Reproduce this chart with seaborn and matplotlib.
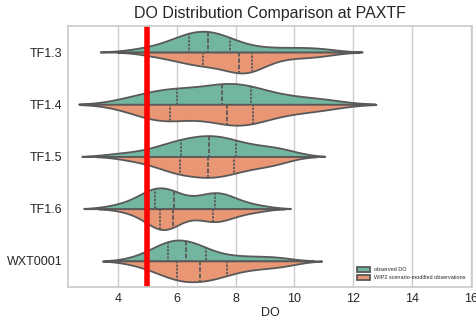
import matplotlib
matplotlib.use("Agg")
import matplotlib.pyplot as plt
import seaborn as sns
import pandas as pd

# hand-read sample values for each station (25 values each)
stations = ["TF1.3", "TF1.4", "TF1.5", "TF1.6", "WXT0001"]
sources = ["observed DO", "WIP2 scenario-modified observations"]

obs_tf13 = [4.7, 5.3, 5.7, 5.95, 6.15, 6.3, 6.4, 6.5, 6.6, 6.75, 6.85, 6.95, 7.07,
            7.2, 7.3, 7.45, 7.55, 7.7, 7.8, 8.2, 8.7, 9.3, 9.9, 10.5, 11.0]
mod_tf13 = [5.2, 5.7, 6.1, 6.4, 6.6, 6.8, 6.9, 7.1, 7.4, 7.6, 7.8, 7.95, 8.1,
            8.2, 8.3, 8.4, 8.45, 8.5, 8.57, 8.8, 9.1, 9.5, 10.0, 10.5, 11.0]
obs_tf14 = [4.2, 4.7, 5.1, 5.4, 5.65, 5.85, 6.0, 6.3, 6.6, 6.9, 7.15, 7.35, 7.55,
            7.7, 7.85, 8.0, 8.2, 8.35, 8.53, 8.8, 9.1, 9.5, 10.0, 10.6, 11.2]
mod_tf14 = [4.3, 4.8, 5.1, 5.35, 5.55, 5.68, 5.77, 6.1, 6.5, 6.9, 7.2, 7.45, 7.7,
            7.85, 8.0, 8.15, 8.3, 8.45, 8.6, 8.9, 9.2, 9.6, 10.1, 10.6, 11.2]
obs_tf15 = [4.0, 4.8, 5.3, 5.6, 5.85, 6.0, 6.15, 6.35, 6.55, 6.7, 6.85, 7.0, 7.1,
            7.25, 7.4, 7.55, 7.7, 7.85, 8.0, 8.3, 8.6, 8.9, 9.2, 9.5, 9.8]
mod_tf15 = [4.4, 5.0, 5.4, 5.65, 5.85, 6.0, 6.1, 6.3, 6.5, 6.65, 6.8, 6.95, 7.07,
            7.2, 7.35, 7.5, 7.65, 7.8, 7.95, 8.2, 8.45, 8.7, 9.0, 9.3, 9.6]
obs_tf16 = [3.9, 4.5, 4.8, 5.0, 5.1, 5.2, 5.26, 5.4, 5.5, 5.6, 5.7, 5.8, 5.9,
            6.1, 6.5, 6.9, 7.05, 7.2, 7.3, 7.4, 7.5, 7.65, 7.8, 8.2, 8.8]
mod_tf16 = [4.3, 4.8, 5.05, 5.2, 5.3, 5.38, 5.43, 5.5, 5.58, 5.65, 5.72, 5.8, 5.87,
            6.0, 6.3, 6.7, 6.95, 7.1, 7.24, 7.35, 7.45, 7.6, 7.8, 8.2, 8.7]
obs_wxt = [4.6, 5.0, 5.25, 5.4, 5.55, 5.63, 5.7, 5.8, 5.9, 6.0, 6.1, 6.2, 6.3,
           6.4, 6.5, 6.6, 6.75, 6.9, 7.0, 7.3, 7.7, 8.1, 8.6, 9.1, 9.6]
mod_wxt = [4.6, 5.1, 5.4, 5.6, 5.8, 5.9, 6.0, 6.15, 6.3, 6.45, 6.55, 6.7, 6.8,
           6.95, 7.1, 7.25, 7.4, 7.55, 7.7, 8.0, 8.3, 8.6, 9.0, 9.4, 9.8]

do_standard = 5

observed = [obs_tf13, obs_tf14, obs_tf15, obs_tf16, obs_wxt]
modified = [mod_tf13, mod_tf14, mod_tf15, mod_tf16, mod_wxt]

rows = []
for st, o, m in zip(stations, observed, modified):
    rows += [(st, v, sources[0]) for v in o]
    rows += [(st, v, sources[1]) for v in m]
df = pd.DataFrame(rows, columns=["Station", "DO", "source"])

sns.set_theme(style="whitegrid")
plt.rcParams["font.family"] = ["Liberation Sans", "DejaVu Sans"]

fig = plt.figure(figsize=(4.76, 3.21), dpi=100)
ax = fig.add_axes([0.143, 0.106, 0.849, 0.813])

sns.violinplot(data=df, x="DO", y="Station", hue="source", split=True,
               inner="quart", palette="Set2", order=stations, hue_order=sources,
               density_norm="width", linewidth=1.3, bw_adjust=0.8, ax=ax)
ax.axvline(do_standard, color="red", lw=4)

ax.set_xlim(2.3, 16.05)
ax.set_xticks([4, 6, 8, 10, 12, 14, 16])
ax.tick_params(labelsize=9, length=0, pad=4)
ax.set_title("DO Distribution Comparison at PAXTF", fontsize=11.5)
ax.set_xlabel("DO", fontsize=9, labelpad=2)
ax.set_ylabel("Station", fontsize=9)
ax.yaxis.set_label_coords(-0.165, 0.5)
ax.legend(loc="lower right", fontsize=4, frameon=False, borderaxespad=0.8,
          handlelength=2.2, handleheight=1.0)

fig.savefig("out.png", dpi=100)
